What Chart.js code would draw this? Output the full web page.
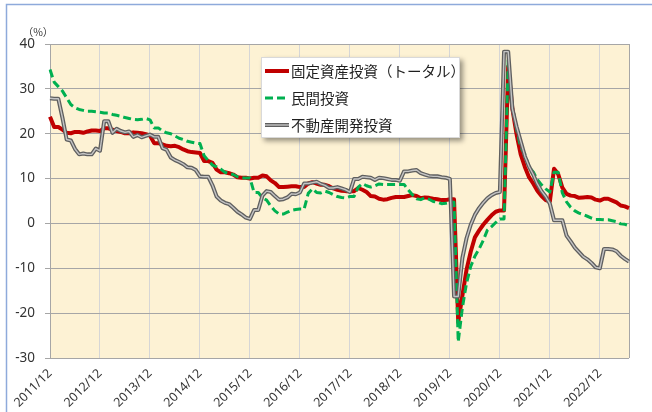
<!DOCTYPE html>
<html><head><meta charset="utf-8">
<script src="https://cdn.jsdelivr.net/npm/chart.js@4.4.0/dist/chart.umd.min.js"></script>
<style>html,body{margin:0;padding:0;background:#fff;}canvas{display:block;}</style>
</head><body>
<canvas id="c" width="652" height="412"></canvas>
<script>
// ---- categories (monthly, 2011/12 .. 2023/07) ----
const firstMonth = '2011/12';
const years = [2012,2013,2014,2015,2016,2017,2018,2019,2020,2021,2022,2023];
const lastMonthOfLastYear = 7;
const tickLabels = ['2011/12','2012/12','2013/12','2014/12','2015/12','2016/12','2017/12','2018/12','2019/12','2020/12','2021/12','2022/12'];
const yTicks = [-30,-20,-10,0,10,20,30,40];

// ---- series values (cumulative YoY %, one row per year: Jan..Dec) ----
const totalInvestment = [
  23.8,
  21.5,21.5,20.9,20.2,20.1,20.4,20.4,20.2,20.5,20.7,20.7,20.6,
  21.2,21.2,20.9,20.6,20.4,20.1,20.1,20.3,20.2,20.1,19.9,19.6,
  17.9,17.9,17.6,17.3,17.2,17.3,17.0,16.5,16.1,15.9,15.8,15.7,
  13.9,13.9,13.5,12.0,11.4,11.4,11.2,10.9,10.3,10.2,10.2,10.0,
  10.2,10.2,10.7,10.5,9.6,9.0,8.1,8.1,8.2,8.3,8.3,8.1,
  8.1,8.9,9.2,8.9,8.6,8.6,8.3,7.8,7.5,7.3,7.2,7.2,
  7.2,7.9,7.5,7.0,6.1,6.0,5.5,5.3,5.4,5.7,5.9,5.9,
  5.9,6.1,6.3,6.1,5.6,5.8,5.7,5.5,5.4,5.2,5.2,5.4,
  5.4,-22.0,-16.1,-10.3,-6.3,-3.1,-1.6,-0.3,0.8,1.8,2.6,2.9,
  2.9,35.0,25.6,19.9,15.4,12.6,10.3,8.9,7.3,6.1,5.2,4.9,
  12.2,11.0,8.0,6.6,6.2,6.1,5.7,5.8,5.9,5.8,5.3,5.1,
  5.5,5.5,5.1,4.7,4.0,3.8,3.4
];
const privateInvestment = [
  34.3,
  31.5,30.5,29.5,28.0,26.5,25.8,25.4,25.2,25.0,25.0,24.9,24.8,
  24.6,24.6,24.3,24.1,23.9,23.6,23.4,23.2,23.1,23.2,23.4,23.1,
  21.3,21.3,20.6,20.2,20.0,19.5,19.0,18.7,18.3,18.1,17.9,17.8,
  15.1,14.0,13.0,12.6,12.1,11.4,11.1,10.9,10.4,10.2,10.1,10.1,
  6.9,6.9,5.7,5.2,3.9,2.8,2.1,2.1,2.5,2.9,3.1,3.2,
  3.2,6.7,7.7,6.9,6.8,7.2,6.9,6.4,6.0,5.8,5.7,6.0,
  6.0,8.1,8.9,8.4,8.1,8.4,8.8,8.7,8.7,8.7,8.7,8.7,
  8.7,7.5,6.4,5.5,5.3,5.7,5.4,4.9,4.7,4.4,4.5,4.7,
  4.7,-26.4,-18.8,-13.3,-9.6,-7.3,-5.7,-3.8,-1.5,-0.7,0.2,1.0,
  1.0,36.4,26.0,21.0,17.0,15.4,12.6,11.5,9.8,8.6,7.7,7.0,
  11.4,11.4,6.8,4.8,3.6,2.8,2.3,2.0,1.6,1.2,0.9,0.9,
  0.8,0.8,0.6,0.4,-0.1,-0.2,-0.5
];
const realEstateInvestment = [
  27.9,
  27.8,27.8,23.5,18.7,18.5,16.6,15.4,15.6,15.4,15.4,16.7,16.2,
  22.8,22.8,20.2,21.1,20.6,20.3,20.5,19.3,19.7,19.2,19.5,19.8,
  19.3,19.3,16.8,16.4,14.7,14.1,13.7,13.2,12.5,12.4,11.9,10.5,
  10.4,10.4,8.5,6.0,5.1,4.6,4.3,3.5,2.6,2.0,1.3,1.0,
  3.0,3.0,6.2,7.2,7.0,6.1,5.3,5.4,5.8,6.6,6.5,6.9,
  8.9,8.9,9.1,9.3,8.8,8.5,7.9,7.9,8.1,7.8,7.5,7.0,
  9.9,9.9,10.4,10.3,10.2,9.7,10.2,10.1,9.9,9.7,9.7,9.5,
  11.6,11.6,11.8,11.9,11.2,10.9,10.6,10.5,10.5,10.3,10.2,9.9,
  -16.3,-16.3,-7.7,-3.3,-0.3,1.9,3.4,4.6,5.6,6.3,6.8,7.0,
  38.3,38.3,25.6,21.6,18.3,15.0,12.7,10.9,8.8,7.2,6.0,4.4,
  0.7,0.7,0.7,-2.7,-4.0,-5.4,-6.4,-7.4,-8.0,-8.8,-9.8,-10.0,
  -5.7,-5.7,-5.8,-6.2,-7.2,-7.9,-8.5
];

const seriesNames = ['固定資産投資（トータル）','民間投資','不動産開発投資'];

// build monthly category labels
const months = [firstMonth];
years.forEach(y => {
  const last = (y === years[years.length-1]) ? lastMonthOfLastYear : 12;
  for (let m = 1; m <= last; m++) months.push(y + '/' + String(m).padStart(2,'0'));
});

const PLOT_BG = '#FDF2D4';
const HGRID = '#A6A6A6';
const VGRID = '#D6D6D6';

const bgPlugin = {
  id: 'bg',
  beforeDraw(chart) {
    const {ctx, chartArea: a} = chart;
    ctx.save();
    ctx.fillStyle = '#fff';
    ctx.fillRect(0, 0, chart.width, chart.height);
    ctx.strokeStyle = '#8EAADB';
    ctx.lineWidth = 1.5;
    ctx.strokeRect(6.5, 4.5, chart.width + 20, chart.height + 20);
    ctx.fillStyle = PLOT_BG;
    ctx.fillRect(a.left, a.top, a.right - a.left, a.bottom - a.top);
    ctx.fillStyle = '#333333';
    ctx.font = '10.5px "Noto Sans CJK JP"';
    ctx.textAlign = 'center';
    ctx.textBaseline = 'middle';
    ctx.fillText('（%）', 38, 32);
    ctx.restore();
  },
  beforeDatasetsDraw(chart) {
    const {ctx, chartArea: a} = chart;
    ctx.save();
    ctx.strokeStyle = HGRID;
    ctx.lineWidth = 1;
    ctx.beginPath();
    ctx.moveTo(Math.round(a.right) + 0.5, a.top);
    ctx.lineTo(Math.round(a.right) + 0.5, a.bottom);
    ctx.stroke();
    ctx.restore();
  }
};

const legendPlugin = {
  id: 'boxLegend',
  afterDraw(chart) {
    const ctx = chart.ctx;
    const bx = 261, by = 57, bw = 199, bh = 81;
    ctx.save();
    ctx.shadowColor = 'rgba(0,0,0,0.4)';
    ctx.shadowBlur = 5; ctx.shadowOffsetX = 3; ctx.shadowOffsetY = 3;
    ctx.fillStyle = '#fff';
    ctx.fillRect(bx, by, bw, bh);
    ctx.restore();
    ctx.save();
    ctx.strokeStyle = '#D9D9D9'; ctx.lineWidth = 1;
    ctx.strokeRect(bx + 0.5, by + 0.5, bw - 1, bh - 1);
    const ds = chart.data.datasets;
    const labelled = ds.filter(d => d.label);
    labelled.forEach((d, i) => {
      const y = 71 + i * 27;
      const layers = [d].concat(ds.filter(o => !o.label && o.data === d.data));
      layers.forEach(l => {
        ctx.beginPath();
        ctx.strokeStyle = l.borderColor;
        ctx.lineWidth = l.borderWidth;
        ctx.setLineDash(l.borderDash || []);
        ctx.lineCap = 'butt';
        ctx.moveTo(265, y); ctx.lineTo(289, y);
        ctx.stroke();
      });
      ctx.setLineDash([]);
      ctx.fillStyle = '#1F1F1F';
      ctx.font = '14.5px "Noto Sans CJK JP"';
      ctx.textAlign = 'left';
      ctx.textBaseline = 'middle';
      ctx.fillText(d.label, 291, y + 0.5);
    });
    ctx.restore();
  }
};

new Chart(document.getElementById('c'), {
  type: 'line',
  data: {
    labels: months,
    datasets: [
      { label: seriesNames[0], data: totalInvestment, borderColor: '#C00000', borderWidth: 4, order: 3 },
      { label: seriesNames[1], data: privateInvestment, borderColor: '#00B050', borderWidth: 3, borderDash: [8,4], order: 2 },
      { label: seriesNames[2], data: realEstateInvestment, borderColor: '#5F5F5F', borderWidth: 4, order: 1 },
      { label: '', data: realEstateInvestment, borderColor: '#C4C4C4', borderWidth: 1.4, order: 0 }
    ]
  },
  options: {
    responsive: false,
    animation: false,
    devicePixelRatio: 1,
    layout: { padding: { left: 0, top: 44, right: 23, bottom: 0 } },
    elements: {
      point: { radius: 0 },
      line: { tension: 0, borderJoinStyle: 'round', borderCapStyle: 'butt', fill: false }
    },
    plugins: { legend: { display: false }, tooltip: { enabled: false } },
    scales: {
      x: {
        type: 'category',
        offset: false,
        afterFit(s) { s.height = 54; },
        grid: {
          drawTicks: false,
          color: c => (tickLabels.includes(months[c.index]) ? VGRID : 'rgba(0,0,0,0)'),
          lineWidth: 1
        },
        border: { display: false },
        ticks: {
          autoSkip: false,
          maxRotation: 45,
          minRotation: 45,
          padding: 8,
          color: '#333333',
          font: { family: 'Noto Sans', size: 12.5 },
          callback: (v, i) => (tickLabels.includes(months[i]) ? months[i] : '')
        }
      },
      y: {
        min: yTicks[0],
        max: yTicks[yTicks.length - 1],
        afterFit(s) { s.width = 50; },
        afterBuildTicks(s) { s.ticks = yTicks.map(v => ({ value: v })); },
        grid: { color: HGRID, lineWidth: 1, tickLength: 5, drawTicks: true, tickColor: HGRID },
        border: { display: true, color: HGRID, width: 1 },
        ticks: {
          padding: 10,
          color: '#333333',
          font: { family: 'Noto Sans', size: 13.5 }
        }
      }
    }
  },
  plugins: [bgPlugin, legendPlugin]
});
</script>
</body></html>
